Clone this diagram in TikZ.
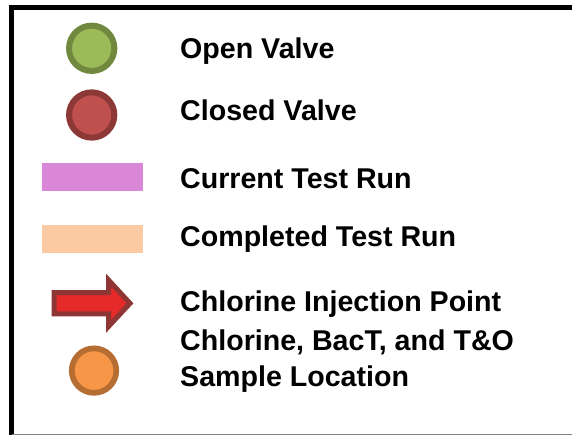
\documentclass[tikz,border=0pt]{standalone}
\usepackage{fontspec}
\setmainfont{Liberation Sans}
\definecolor{okfill}{HTML}{9BBB59}
\definecolor{okline}{HTML}{71893F}
\definecolor{shutfill}{HTML}{C0504D}
\definecolor{shutline}{HTML}{8C3836}
\definecolor{samplefill}{HTML}{F79646}
\definecolor{sampleline}{HTML}{B66D31}
\definecolor{currentrun}{HTML}{DB87D7}
\definecolor{donerun}{HTML}{FBCAA2}
\definecolor{injectfill}{HTML}{E62A2A}
\definecolor{injectline}{HTML}{8E3634}
\definecolor{frameline}{HTML}{808080}
\tikzset{
  legendtext/.style={anchor=base west, inner sep=0pt, font=\fontsize{28.6}{36}\selectfont\bfseries},
  dot/.style={circle, minimum size=45.3pt, inner sep=0pt, line width=6pt},
  swatch/.style={inner sep=0pt, minimum width=101.6pt}
}
\begin{document}
\begin{tikzpicture}[x=1pt, y=-1pt]
\useasboundingbox (0,0) rectangle (572,435);
% frame
\draw[line width=5pt] (11.5,435) -- (11.5,7.5) -- (572,7.5);
\draw[frameline, line width=1pt] (11.5,434.5) -- (572,434.5);
% symbols
\node[dot, draw=okline, fill=okfill] (open) at (91.7,48.3) {};
\node[dot, draw=shutline, fill=shutfill] (closed) at (91.7,115) {};
\node[swatch, fill=currentrun, minimum height=27.4pt] (cur) at (92.5,177) {};
\node[swatch, fill=donerun, minimum height=27.7pt] (done) at (92.5,238.9) {};
\draw[injectline, fill=injectfill, line width=5pt]
  (54,292.5) -- (108.5,292.5) -- (108.5,280) -- (130,303.3) -- (108.5,326.5)
  -- (108.5,313.8) -- (54,313.8) -- cycle;
\node[dot, draw=sampleline, fill=samplefill, line width=5.7pt, minimum size=44.5pt] (sample) at (94,370.6) {};
% labels
\node[legendtext] (t1) at (180,58.3) {Open Valve};
\node[legendtext] (t2) at (180,121) {Closed Valve};
\node[legendtext] (t3) at (180,188.3) {Current Test Run};
\node[legendtext] (t4) at (180,246.7) {Completed Test Run};
\node[legendtext] (t5) at (180,311.7) {Chlorine Injection Point};
\node[legendtext] (t6) at (180,350) {Chlorine, BacT, and T\&O};
\node[legendtext] (t7) at (180,386) {Sample Location};
\end{tikzpicture}
\end{document}
